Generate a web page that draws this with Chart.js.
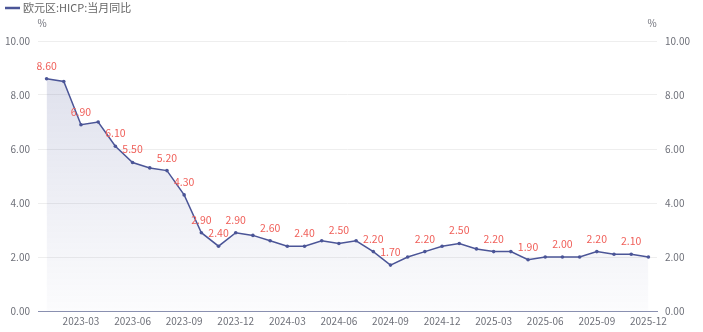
<!DOCTYPE html>
<html>
<head>
<meta charset="utf-8">
<script src="https://cdn.jsdelivr.net/npm/chart.js@4.4.1/dist/chart.umd.min.js"></script>
<style>
html,body{margin:0;padding:0;background:#fff;}
#wrap{width:703px;height:332px;position:relative;}
</style>
</head>
<body>
<div id="wrap"><canvas id="c" width="703" height="332"></canvas></div>
<script>
const seriesName = '欧元区:HICP:当月同比';
const unitLabel = '%';
const categories = [
  '2023-01','2023-02','2023-03','2023-04','2023-05','2023-06','2023-07','2023-08','2023-09','2023-10','2023-11','2023-12',
  '2024-01','2024-02','2024-03','2024-04','2024-05','2024-06','2024-07','2024-08','2024-09','2024-10','2024-11','2024-12',
  '2025-01','2025-02','2025-03','2025-04','2025-05','2025-06','2025-07','2025-08','2025-09','2025-10','2025-11','2025-12'
];
const values = [
  8.6,8.5,6.9,7.0,6.1,5.5,5.3,5.2,4.3,2.9,2.4,2.9,
  2.8,2.6,2.4,2.4,2.6,2.5,2.6,2.2,1.7,2.0,2.2,2.4,
  2.5,2.3,2.2,2.2,1.9,2.0,2.0,2.0,2.2,2.1,2.1,2.0
];
const shownXTicks = ['2023-03','2023-06','2023-09','2023-12','2024-03','2024-06','2024-09','2024-12','2025-03','2025-06','2025-09','2025-12'];
const yTicks = [0,2,4,6,8,10];

const FONT = '"Noto Sans CJK SC", "Noto Sans", sans-serif';
const LINE = '#4b5597';
const LABEL_RED = '#f0605a';
const AXIS_TXT = '#6e7079';

const overlay = {
  id: 'overlay',
  afterDatasetsDraw(chart) {
    const ctx = chart.ctx;
    const meta = chart.getDatasetMeta(0);
    ctx.save();
    ctx.font = '10.5px ' + FONT;
    ctx.fillStyle = LABEL_RED;
    ctx.textAlign = 'center';
    ctx.textBaseline = 'middle';
    const shown = [];
    const h = 12;
    meta.data.forEach((pt, i) => {
      const txt = values[i].toFixed(2);
      const w = ctx.measureText(txt).width;
      const cx = pt.x, cy = pt.y - 13;
      const box = {l: cx - w/2, r: cx + w/2, t: cy - h/2, b: cy + h/2};
      const hit = shown.some(s => !(box.r <= s.l || box.l >= s.r || box.b <= s.t || box.t >= s.b));
      if (!hit) {
        shown.push(box);
        ctx.fillText(txt, cx, cy);
      }
    });
    ctx.restore();
  },
  afterDraw(chart) {
    const ctx = chart.ctx;
    const ca = chart.chartArea;
    ctx.save();
    // legend
    ctx.strokeStyle = LINE;
    ctx.lineWidth = 2.5;
    ctx.beginPath();
    ctx.moveTo(5, 8);
    ctx.lineTo(20, 8);
    ctx.stroke();
    ctx.font = '11px ' + FONT;
    ctx.fillStyle = '#666';
    ctx.textAlign = 'left';
    ctx.textBaseline = 'middle';
    ctx.fillText(seriesName, 23, 8);
    // units
    ctx.font = '10px ' + FONT;
    ctx.fillStyle = AXIS_TXT;
    ctx.textAlign = 'center';
    ctx.fillText(unitLabel, ca.left + 4, 23);
    ctx.fillText(unitLabel, ca.right - 5, 23);
    ctx.restore();
  }
};

new Chart(document.getElementById('c'), {
  type: 'line',
  data: {
    labels: categories,
    datasets: [{
      label: seriesName,
      data: values,
      borderColor: LINE,
      borderWidth: 1.5,
      pointRadius: 1.8,
      pointBackgroundColor: LINE,
      pointBorderWidth: 0,
      tension: 0,
      fill: 'origin',
      backgroundColor(context) {
        const ca = context.chart.chartArea;
        if (!ca) return 'rgba(75,85,151,0.1)';
        const g = context.chart.ctx.createLinearGradient(0, ca.top, 0, ca.bottom);
        g.addColorStop(0, 'rgba(75,85,151,0.20)');
        g.addColorStop(1, 'rgba(75,85,151,0.02)');
        return g;
      }
    }]
  },
  options: {
    responsive: false,
    animation: false,
    devicePixelRatio: 1,
    layout: {padding: {top: 41, left: 0, right: 0, bottom: 0}},
    plugins: {legend: {display: false}, tooltip: {enabled: false}},
    scales: {
      x: {
        type: 'category',
        offset: true,
        grid: {display: false, drawTicks: false},
        border: {display: true, color: '#8a90b0', width: 1},
        ticks: {
          autoSkip: false, maxRotation: 0, padding: 4,
          color: AXIS_TXT, font: {family: FONT, size: 10},
          callback(v) { const l = categories[v]; return shownXTicks.includes(l) ? l : ''; }
        },
        afterFit(s) { s.height = 21; }
      },
      y: {
        position: 'left', min: 0, max: 10,
        grid: {color: '#eeeeee', drawTicks: false},
        border: {display: false},
        afterBuildTicks(s) { s.ticks = yTicks.map(v => ({value: v})); },
        ticks: {padding: 8, color: AXIS_TXT, font: {family: FONT, size: 10}, callback: v => Number(v).toFixed(2)},
        afterFit(s) { s.width = 38; }
      },
      y2: {
        position: 'right', min: 0, max: 10,
        grid: {display: false, drawTicks: false},
        border: {display: false},
        afterBuildTicks(s) { s.ticks = yTicks.map(v => ({value: v})); },
        ticks: {padding: 8, color: AXIS_TXT, font: {family: FONT, size: 10}, callback: v => Number(v).toFixed(2)},
        afterFit(s) { s.width = 46; }
      }
    }
  },
  plugins: [overlay]
});
</script>
</body>
</html>
